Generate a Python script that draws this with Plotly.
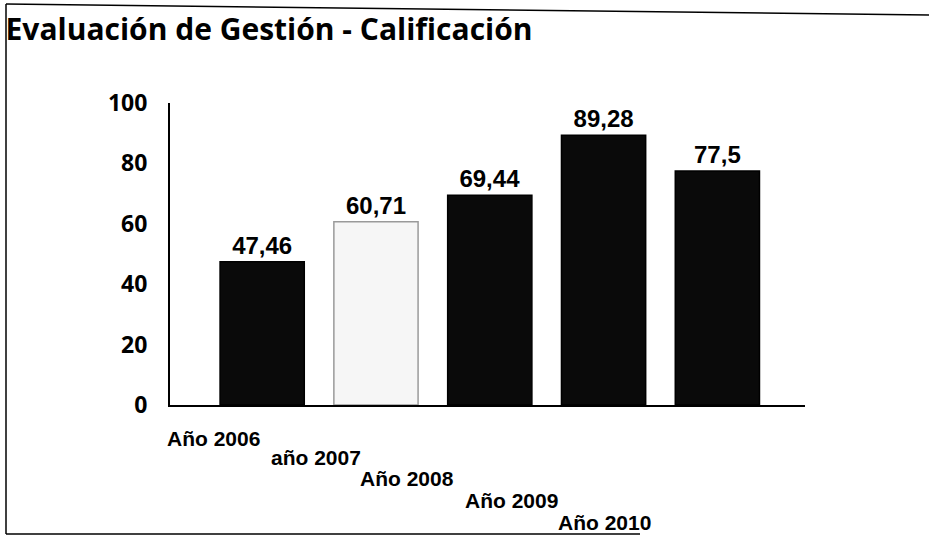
import plotly.graph_objects as go

categories = ["Año 2006", "año 2007", "Año 2008", "Año 2009", "Año 2010"]
values = [47.46, 60.71, 69.44, 89.28, 77.5]
value_labels = ["47,46", "60,71", "69,44", "89,28", "77,5"]
bar_colors = ["#0a0a0a", "#f6f6f6", "#0a0a0a", "#0a0a0a", "#0a0a0a"]
bar_edges = ["#000000", "#9a9a9a", "#000000", "#000000", "#000000"]
y_ticks = [0, 20, 40, 60, 80, 100]

# perspective-like stagger of the category labels (pixel offsets)
label_xshift = [-49, -60, -83, -92, -113]
label_yshift = [-33, -52, -73, -95, -117]

x_idx = list(range(len(categories)))

W, H = 929, 540
L, R, T, B = 170, 124, 103, 135
PW, PH = W - L - R, H - T - B


def px(x):
    return (x - L) / PW


def py(y):
    return (H - B - y) / PH


fig = go.Figure()
fig.add_trace(go.Bar(
    x=x_idx, y=values,
    marker=dict(color=bar_colors, line=dict(color=bar_edges, width=1.5)),
    text=value_labels, textposition="outside",
    textfont=dict(family="Liberation Sans", size=24, color="#000000", weight="bold"),
    cliponaxis=False, width=0.74, hoverinfo="skip",
))

for i, lab in enumerate(categories):
    fig.add_annotation(
        x=i, y=0, xref="x", yref="y", text=lab, showarrow=False,
        xanchor="center", yanchor="middle",
        xshift=label_xshift[i], yshift=label_yshift[i],
        font=dict(family="Liberation Sans", size=21, color="#000000", weight="bold"),
    )

fig.update_layout(
    width=W, height=H,
    margin=dict(l=L, r=R, t=T, b=B),
    paper_bgcolor="white", plot_bgcolor="white",
    showlegend=False,
    title=dict(
        text="<b>Evaluación de Gestión - Calificación</b>",
        x=0.006, xanchor="left", xref="container", y=0.945, yanchor="middle",
        font=dict(family="Open Sans", size=30, color="#000000"),
    ),
    xaxis=dict(
        range=[-0.81, 4.77], showticklabels=False, showgrid=False,
        showline=True, linecolor="#000000", linewidth=2, zeroline=False,
        tickvals=x_idx,
    ),
    yaxis=dict(
        range=[0, 100], tickvals=y_ticks, showgrid=False, zeroline=False,
        showline=True, linecolor="#000000", linewidth=2,
        ticks="", ticklabelstandoff=16,
        tickfont=dict(family="Open Sans", size=23, color="#000000", weight="bold"),
    ),
)

# outer frame of the scanned chart (left, top and partial bottom edges)
frame = dict(type="line", xref="paper", yref="paper",
             line=dict(color="#000000", width=1.5))
fig.add_shape(x0=px(6), x1=px(6), y0=py(534), y1=py(4), **frame)
fig.add_shape(x0=px(6), x1=px(929), y0=py(4), y1=py(15), **frame)
fig.add_shape(x0=px(6), x1=px(640), y0=py(534), y1=py(534), **frame)

fig.write_html("out.html", config={"displayModeBar": False},
               post_script="document.body.style.margin='0';")
